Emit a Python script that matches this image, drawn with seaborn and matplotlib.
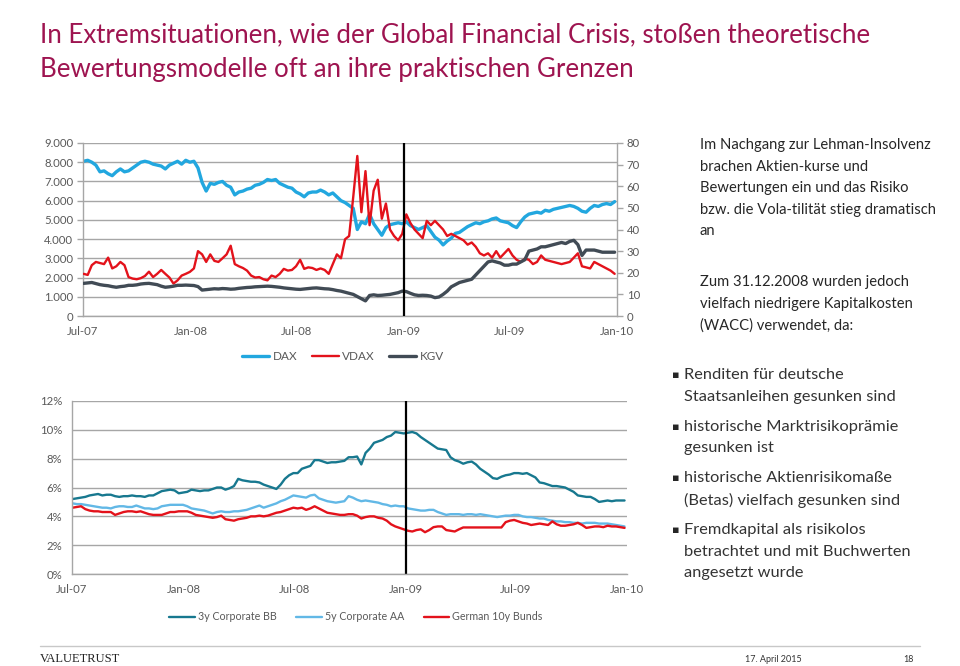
import matplotlib
matplotlib.use("Agg")
import matplotlib.pyplot as plt
import seaborn as sns
import pandas as pd
from matplotlib.lines import Line2D

# ----------
# weekly values, Jul-07 .. Dec-09
# ----------
dax = [8050, 8100, 8000, 7850, 7500, 7550, 7400, 7300, 7500, 7650,
       7500, 7550, 7700, 7850, 8000, 8050, 8000, 7900, 7850, 7800,
       7650, 7850, 7950, 8050, 7900, 8100, 8000, 8050, 7700, 6950,
       6500, 6900, 6850, 6950, 7000, 6800, 6700, 6300, 6450, 6500,
       6600, 6650, 6800, 6850, 6950, 7100, 7050, 7100, 6900, 6800,
       6700, 6650, 6450, 6350, 6200, 6400, 6450, 6450, 6550, 6450,
       6300, 6400, 6200, 6000, 5900, 5750, 5600, 4500, 4900, 4800,
       5300, 4800, 4500, 4200, 4600, 4750, 4800, 4850, 4800, 4900,
       4700, 4600, 4500, 4600, 4700, 4400, 4100, 3950, 3700, 3900,
       4050, 4300, 4350, 4500, 4650, 4750, 4850, 4800, 4900, 4950,
       5050, 5100, 4950, 4900, 4850, 4700, 4600, 4900, 5150, 5300,
       5350, 5400, 5350, 5500, 5450, 5550, 5600, 5650, 5700, 5750,
       5700, 5600, 5450, 5400, 5600, 5750, 5700, 5800, 5850, 5800,
       5950]

vdax = [19.5, 19.0, 23.5, 25.0, 24.5, 24.0, 27.0, 22.0, 23.0, 25.0,
        23.5, 18.0, 17.3, 17.0, 17.5, 18.5, 20.5, 18.0, 19.5, 21.3,
        19.5, 17.8, 15.0, 16.5, 18.7, 19.5, 20.4, 22.0, 30.0, 28.5,
        25.0, 28.5, 25.5, 25.0, 26.7, 28.5, 32.5, 24.0, 23.0, 22.2,
        21.0, 18.7, 17.8, 18.0, 17.0, 16.5, 18.7, 18.0, 19.5, 21.8,
        21.0, 21.3, 23.0, 26.0, 21.8, 22.5, 22.2, 21.3, 22.0, 21.3,
        19.5, 24.0, 28.5, 26.7, 35.5, 37.0, 55.0, 74.0, 48.0, 67.0,
        42.0, 58.0, 63.0, 45.0, 52.0, 40.0, 37.0, 35.0, 38.0, 47.0,
        43.0, 40.0, 38.0, 36.0, 44.0, 42.0, 44.0, 42.0, 40.0, 37.0,
        38.0, 37.0, 36.0, 35.0, 33.0, 34.0, 32.0, 29.0, 28.0, 29.0,
        27.0, 30.0, 27.0, 29.0, 31.0, 28.0, 26.0, 25.0, 26.5, 26.0,
        24.0, 25.0, 28.0, 26.0, 25.5, 25.0, 24.5, 24.0, 24.5, 25.0,
        27.0, 29.0, 23.0, 22.5, 22.0, 25.0, 24.0, 23.0, 22.0, 21.0,
        19.5]

kgv = [15.1, 15.3, 15.5, 15.0, 14.5, 14.2, 14.0, 13.6, 13.3, 13.6,
       13.8, 14.2, 14.2, 14.4, 14.8, 15.0, 15.1, 14.8, 14.5, 13.8,
       13.3, 13.5, 13.8, 14.2, 14.2, 14.3, 14.2, 14.1, 13.6, 12.0,
       12.2, 12.4, 12.6, 12.5, 12.7, 12.6, 12.4, 12.5, 12.8, 13.0,
       13.2, 13.3, 13.5, 13.6, 13.7, 13.8, 13.7, 13.5, 13.3, 13.0,
       12.8, 12.6, 12.4, 12.3, 12.5, 12.7, 12.9, 13.0, 12.8, 12.6,
       12.5, 12.2, 11.8, 11.5, 11.0, 10.5, 10.0, 9.0, 8.0, 7.0,
       9.5, 9.8, 9.5, 9.6, 9.8, 10.0, 10.4, 10.8, 11.5, 11.3,
       10.5, 9.8, 9.5, 9.6, 9.5, 9.2, 8.5, 8.8, 10.0, 11.5,
       13.5, 14.5, 15.5, 16.0, 16.5, 17.0, 19.0, 21.0, 23.0, 25.0,
       25.5, 25.0, 24.5, 23.5, 23.5, 24.0, 24.0, 25.0, 26.0, 30.0,
       30.5, 31.0, 32.0, 32.0, 32.5, 33.0, 33.5, 34.0, 33.5, 34.5,
       35.0, 33.0, 28.0, 30.5, 30.5, 30.5, 30.0, 29.5, 29.5, 29.5,
       29.5]

bb3y = [5.20, 5.25, 5.30, 5.35, 5.45, 5.50, 5.55, 5.45, 5.50, 5.50,
        5.40, 5.35, 5.40, 5.40, 5.45, 5.40, 5.40, 5.35, 5.45, 5.45,
        5.60, 5.75, 5.80, 5.85, 5.80, 5.60, 5.65, 5.70, 5.85, 5.80,
        5.75, 5.80, 5.80, 5.90, 6.00, 6.00, 5.85, 5.95, 6.10, 6.60,
        6.50, 6.45, 6.40, 6.40, 6.35, 6.20, 6.10, 6.00, 5.90, 6.20,
        6.60, 6.85, 7.00, 7.00, 7.30, 7.40, 7.50, 7.90, 7.90, 7.80,
        7.70, 7.75, 7.75, 7.80, 7.85, 8.10, 8.10, 8.15, 7.60, 8.40,
        8.70, 9.10, 9.20, 9.30, 9.50, 9.60, 9.85, 9.80, 9.75, 9.80,
        9.85, 9.75, 9.50, 9.30, 9.10, 8.90, 8.70, 8.65, 8.60, 8.10,
        7.90, 7.80, 7.65, 7.75, 7.80, 7.60, 7.30, 7.10, 6.90, 6.65,
        6.60, 6.75, 6.85, 6.90, 7.00, 7.00, 6.95, 7.00, 6.85, 6.70,
        6.35, 6.30, 6.20, 6.10, 6.10, 6.05, 6.00, 5.85, 5.70, 5.45,
        5.40, 5.35, 5.35, 5.20, 5.00, 5.05, 5.10, 5.05, 5.10, 5.10,
        5.10]

aa5y = [4.90, 4.85, 4.85, 4.80, 4.75, 4.70, 4.65, 4.60, 4.60, 4.55,
        4.65, 4.70, 4.70, 4.65, 4.65, 4.75, 4.65, 4.55, 4.55, 4.50,
        4.55, 4.70, 4.75, 4.80, 4.80, 4.80, 4.80, 4.70, 4.55, 4.50,
        4.45, 4.40, 4.30, 4.20, 4.30, 4.35, 4.30, 4.30, 4.35, 4.35,
        4.40, 4.45, 4.55, 4.65, 4.75, 4.60, 4.70, 4.80, 4.90, 5.05,
        5.15, 5.30, 5.45, 5.40, 5.35, 5.30, 5.45, 5.50, 5.25, 5.15,
        5.05, 5.00, 4.95, 5.00, 5.05, 5.40, 5.30, 5.15, 5.05, 5.10,
        5.05, 5.00, 4.95, 4.85, 4.80, 4.70, 4.75, 4.70, 4.70, 4.55,
        4.50, 4.45, 4.40, 4.40, 4.45, 4.45, 4.30, 4.20, 4.10, 4.15,
        4.15, 4.15, 4.10, 4.15, 4.15, 4.10, 4.15, 4.10, 4.05, 4.00,
        3.95, 4.00, 4.05, 4.05, 4.10, 4.10, 4.00, 3.95, 3.95, 3.90,
        3.85, 3.85, 3.75, 3.70, 3.65, 3.65, 3.60, 3.60, 3.55, 3.55,
        3.50, 3.55, 3.55, 3.55, 3.50, 3.50, 3.50, 3.45, 3.40, 3.35,
        3.30]

bund10y = [4.60, 4.65, 4.70, 4.50, 4.40, 4.35, 4.35, 4.30, 4.30, 4.30,
           4.10, 4.20, 4.30, 4.35, 4.35, 4.30, 4.35, 4.25, 4.15, 4.10,
           4.10, 4.10, 4.20, 4.30, 4.30, 4.35, 4.35, 4.35, 4.25, 4.10,
           4.05, 4.00, 3.95, 3.90, 3.95, 4.05, 3.80, 3.75, 3.70, 3.80,
           3.85, 3.90, 4.00, 4.00, 4.05, 4.00, 4.05, 4.15, 4.25, 4.30,
           4.40, 4.50, 4.60, 4.55, 4.60, 4.45, 4.55, 4.70, 4.55, 4.40,
           4.25, 4.20, 4.15, 4.10, 4.10, 4.15, 4.15, 4.05, 3.85, 3.95,
           4.00, 4.00, 3.90, 3.85, 3.70, 3.45, 3.30, 3.20, 3.10, 3.00,
           2.95, 3.05, 3.10, 2.90, 3.05, 3.25, 3.30, 3.30, 3.05, 3.00,
           2.95, 3.10, 3.23, 3.23, 3.23, 3.23, 3.23, 3.23, 3.23, 3.23,
           3.23, 3.23, 3.60, 3.70, 3.75, 3.65, 3.55, 3.50, 3.40, 3.45,
           3.50, 3.45, 3.40, 3.65, 3.45, 3.35, 3.35, 3.40, 3.45, 3.55,
           3.40, 3.20, 3.25, 3.30, 3.30, 3.25, 3.35, 3.30, 3.30, 3.25,
           3.20]

weeks = pd.date_range("2007-07-02", periods=len(dax), freq="7D")

tick_dates = pd.to_datetime(["2007-07-01", "2008-01-01", "2008-07-01",
                             "2009-01-01", "2009-07-01", "2010-01-01"])
tick_labels = ["Jul-07", "Jan-08", "Jul-08", "Jan-09", "Jul-09", "Jan-10"]
left_ticks = [0, 1000, 2000, 3000, 4000, 5000, 6000, 7000, 8000, 9000]
left_labels = ["0", "1.000", "2.000", "3.000", "4.000", "5.000",
               "6.000", "7.000", "8.000", "9.000"]
right_ticks = [0, 10, 20, 30, 40, 50, 60, 70, 80]
pct_ticks = [0, 2, 4, 6, 8, 10, 12]
pct_labels = ["0%", "2%", "4%", "6%", "8%", "10%", "12%"]
lehman = pd.Timestamp("2009-01-01")

# ----------
# colours
# ----------
c_dax, c_vdax, c_kgv = "#22A7DF", "#E3121B", "#414B55"
c_bb, c_aa, c_bund = "#17788F", "#62B8E6", "#E3121B"
grid_c, lab_c = "#A6A6A6", "#595959"

sns.set_style("white")
plt.rcParams["font.family"] = ["Lato", "DejaVu Sans"]

fig = plt.figure(figsize=(9.6, 6.66), dpi=100)


def style_axis(ax, labelsize=8.2):
    ax.tick_params(axis="both", length=4, width=1, color=grid_c,
                   labelcolor=lab_c, labelsize=labelsize, pad=3)
    for s in ["left", "bottom", "right", "top"]:
        ax.spines[s].set_color(grid_c)
        ax.spines[s].set_linewidth(1)
    ax.spines["top"].set_visible(False)
    ax.set_xlabel("")
    ax.set_ylabel("")


# ----------
# top chart: DAX / VDAX / KGV
# ----------
ax1 = fig.add_axes([0.0865, 0.5255, 0.5562, 0.2598])
ax1r = ax1.twinx()
sns.lineplot(x=weeks, y=dax, ax=ax1, color=c_dax, lw=2.4)
sns.lineplot(x=weeks, y=vdax, ax=ax1r, color=c_vdax, lw=1.7)
sns.lineplot(x=weeks, y=kgv, ax=ax1r, color=c_kgv, lw=2.4)
ax1r.axvline(lehman, color="black", lw=1.6)

ax1.set_xlim(tick_dates[0], tick_dates[-1])
ax1.set_ylim(0, 9000)
ax1r.set_ylim(0, 80)
ax1.set_yticks(left_ticks, left_labels)
ax1r.set_yticks(right_ticks, [str(t) for t in right_ticks])
ax1.set_xticks(tick_dates, tick_labels)
ax1.grid(axis="y", color=grid_c, lw=1)
ax1.set_axisbelow(True)
style_axis(ax1)
style_axis(ax1r)
ax1r.spines["left"].set_visible(False)
ax1r.spines["bottom"].set_visible(False)
ax1.spines["right"].set_visible(False)

fig.legend(handles=[Line2D([], [], color=c_dax, lw=2.4),
                    Line2D([], [], color=c_vdax, lw=1.7),
                    Line2D([], [], color=c_kgv, lw=2.4)],
           labels=["DAX", "VDAX", "KGV"], loc="center",
           bbox_to_anchor=(343 / 960, 1 - 357 / 666), ncol=3, frameon=False,
           fontsize=8.5, handlelength=2.3, handletextpad=0.3, columnspacing=1.2,
           labelcolor=lab_c)

# ----------
# bottom chart: corporate / Bund yields
# ----------
ax2 = fig.add_axes([0.075, 0.1381, 0.5781, 0.2598])
sns.lineplot(x=weeks, y=bb3y, ax=ax2, color=c_bb, lw=1.7)
sns.lineplot(x=weeks, y=aa5y, ax=ax2, color=c_aa, lw=1.7)
sns.lineplot(x=weeks, y=bund10y, ax=ax2, color=c_bund, lw=1.7)
ax2.axvline(lehman, color="black", lw=1.6)

ax2.set_xlim(tick_dates[0], tick_dates[-1])
ax2.set_ylim(0, 12)
ax2.set_yticks(pct_ticks, pct_labels)
ax2.set_xticks(tick_dates, tick_labels)
ax2.grid(axis="y", color=grid_c, lw=1)
ax2.set_axisbelow(True)
style_axis(ax2)
ax2.spines["right"].set_visible(False)

fig.legend(handles=[Line2D([], [], color=c_bb, lw=1.7),
                    Line2D([], [], color=c_aa, lw=1.7),
                    Line2D([], [], color=c_bund, lw=1.7)],
           labels=["3y Corporate BB", "5y Corporate AA", "German 10y Bunds"],
           loc="center", bbox_to_anchor=(356 / 960, 1 - 617 / 666), ncol=3,
           frameon=False, fontsize=7.7, handlelength=2.4, handletextpad=0.3,
           columnspacing=1.8, labelcolor=lab_c)

# ----------
# title and text panel
# ----------
fig.text(40 / 960, 1 - 35 / 666,
         "In Extremsituationen, wie der Global Financial Crisis, stoßen theoretische",
         color="#9E1450", fontsize=18.6, va="center")
fig.text(40 / 960, 1 - 70 / 666,
         "Bewertungsmodelle oft an ihre praktischen Grenzen",
         color="#9E1450", fontsize=18.6, va="center")

para1 = ["Im Nachgang zur Lehman-Insolvenz", "brachen Aktien-kurse und",
         "Bewertungen ein und das Risiko", "bzw. die Vola-tilität stieg dramatisch",
         "an"]
para2 = ["Zum 31.12.2008 wurden jedoch", "vielfach niedrigere Kapitalkosten",
         "(WACC) verwendet, da:"]
for i, line in enumerate(para1):
    fig.text(700 / 960, 1 - (145 + i * 21.6) / 666, line, fontsize=10.6,
             color="#262626", va="center")
for i, line in enumerate(para2):
    fig.text(700 / 960, 1 - (282 + i * 21.6) / 666, line, fontsize=10.6,
             color="#262626", va="center")

bullets = [["Renditen für deutsche", "Staatsanleihen gesunken sind"],
           ["historische Marktrisikoprämie", "gesunken ist"],
           ["historische Aktienrisikomaße", "(Betas) vielfach gesunken sind"],
           ["Fremdkapital als risikolos", "betrachtet und mit Buchwerten",
            "angesetzt wurde"]]
y = 375
for item in bullets:
    fig.text(672 / 960, 1 - y / 666, "▪", fontsize=8, color="#262626",
             va="center", family=["DejaVu Sans"])
    for line in item:
        fig.text(684 / 960, 1 - y / 666, line, fontsize=11.8, color="#333333",
                 va="center")
        y += 21.8
    y += 8

# ----------
# footer
# ----------
fig.add_artist(Line2D([40 / 960, 920 / 960], [1 - 646 / 666, 1 - 646 / 666],
                      color="#C8C8C8", lw=1))
fig.text(40 / 960, 1 - 659 / 666, "VALUETRUST", fontsize=9,
         family=["Liberation Serif"], color="#222222", va="center")
fig.text(745 / 960, 1 - 659 / 666, "17. April 2015", fontsize=6.5,
         color="#333333", va="center")
fig.text(903 / 960, 1 - 659 / 666, "18", fontsize=6.5, color="#333333",
         va="center")

fig.savefig("out.png", dpi=100)
